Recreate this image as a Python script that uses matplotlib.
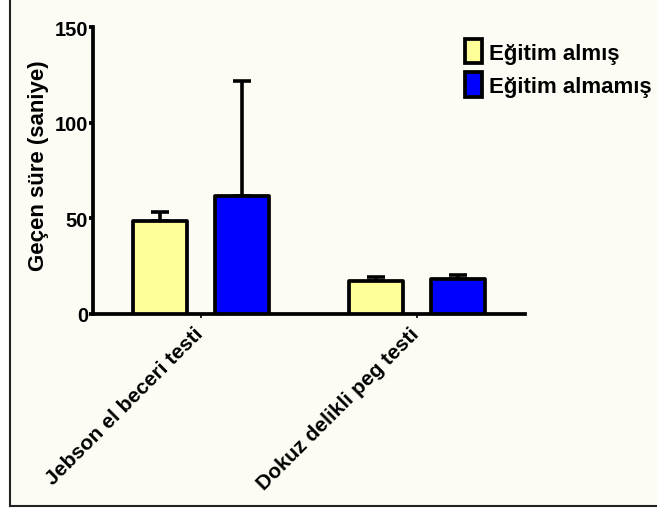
import matplotlib
matplotlib.use('Agg')
import matplotlib.pyplot as plt
import matplotlib.transforms as mtransforms
from matplotlib.patches import Rectangle
from matplotlib.lines import Line2D
import numpy as np

plt.rcParams['font.family'] = ['Liberation Sans', 'DejaVu Sans']
plt.rcParams['font.weight'] = 'bold'

# Data
tests = ['Jebson el beceri testi', 'Dokuz delikli peg testi']
groups = ['Eğitim almış', 'Eğitim almamış']
means_trained = [48.5, 17.2]
means_untrained = [61.5, 18.1]
err_trained = [4.5, 1.8]
err_untrained = [60.2, 2.1]
colors = ['#ffff99', '#0000ff']
yticks = [0, 50, 100, 150]

fig = plt.figure(figsize=(6.57, 5.10), dpi=100)
fig.patch.set_facecolor('white')

# cream panel with a left/bottom frame line
fig.patches.append(Rectangle((10 / 657, 3 / 510), 1, 1, transform=fig.transFigure,
                             facecolor='#fcfcf5', edgecolor='none', zorder=-10))
fig.lines.append(Line2D([10 / 657, 10 / 657], [3 / 510, 1], transform=fig.transFigure,
                        color='#222222', lw=1.5))
fig.lines.append(Line2D([10 / 657, 1], [3 / 510, 3 / 510], transform=fig.transFigure,
                        color='#222222', lw=1.5))

ax = fig.add_axes([93 / 657, 1 - 314.5 / 510, (525 - 93) / 657, (314.5 - 28.3) / 510])
ax.set_facecolor('none')

x = np.arange(len(tests))
w = 0.25
off = 0.19
for i, (means, errs) in enumerate([(means_trained, err_trained),
                                   (means_untrained, err_untrained)]):
    pos = x + (-off if i == 0 else off)
    ax.errorbar(pos, means, yerr=[np.zeros(len(errs)), errs], fmt='none',
                ecolor='black', elinewidth=2.6, capsize=6.5, capthick=2.6, zorder=2)
    bars = ax.bar(pos, means, width=w, color=colors[i], edgecolor='black',
                  linewidth=2.7, label=groups[i], zorder=3)
    for b in bars:
        b.set_joinstyle('round')

ax.set_xlim(-0.5, 1.5)
ax.set_ylim(0, 150)
ax.set_yticks(yticks)
ax.set_xticks(x)
ax.set_xticklabels([])

# rotated category labels, right end just under each tick
shift = mtransforms.ScaledTranslation(0.03, -0.205, fig.dpi_scale_trans)
for xi, name in zip(x, tests):
    ax.text(xi, 0, name, transform=ax.get_xaxis_transform() + shift,
            rotation=45, rotation_mode='anchor', ha='right', va='baseline',
            fontsize=15, fontweight='bold')

for lab in ax.get_yticklabels():
    lab.set_fontsize(14.5)
    lab.set_fontweight('bold')

ax.set_ylabel('Geçen süre (saniye)', fontsize=16, fontweight='bold')
ax.yaxis.set_label_coords(-0.1025, 0.52)

for s in ['top', 'right']:
    ax.spines[s].set_visible(False)
for s in ['left', 'bottom']:
    ax.spines[s].set_linewidth(2.7)
ax.tick_params(axis='y', direction='out', length=3, width=2.7, pad=0.5)
ax.tick_params(axis='x', direction='out', length=3, width=1.2, pad=2)

leg = ax.legend(loc='upper left', bbox_to_anchor=(465 / 657, 1 - 40 / 510),
                bbox_transform=fig.transFigure, frameon=False, fontsize=16,
                handlelength=0.75, handleheight=1.3, handletextpad=0.35,
                labelspacing=0.4, borderpad=0, borderaxespad=0)
for t in leg.get_texts():
    t.set_fontweight('bold')

fig.savefig('out.png', dpi=100, facecolor=fig.get_facecolor())
